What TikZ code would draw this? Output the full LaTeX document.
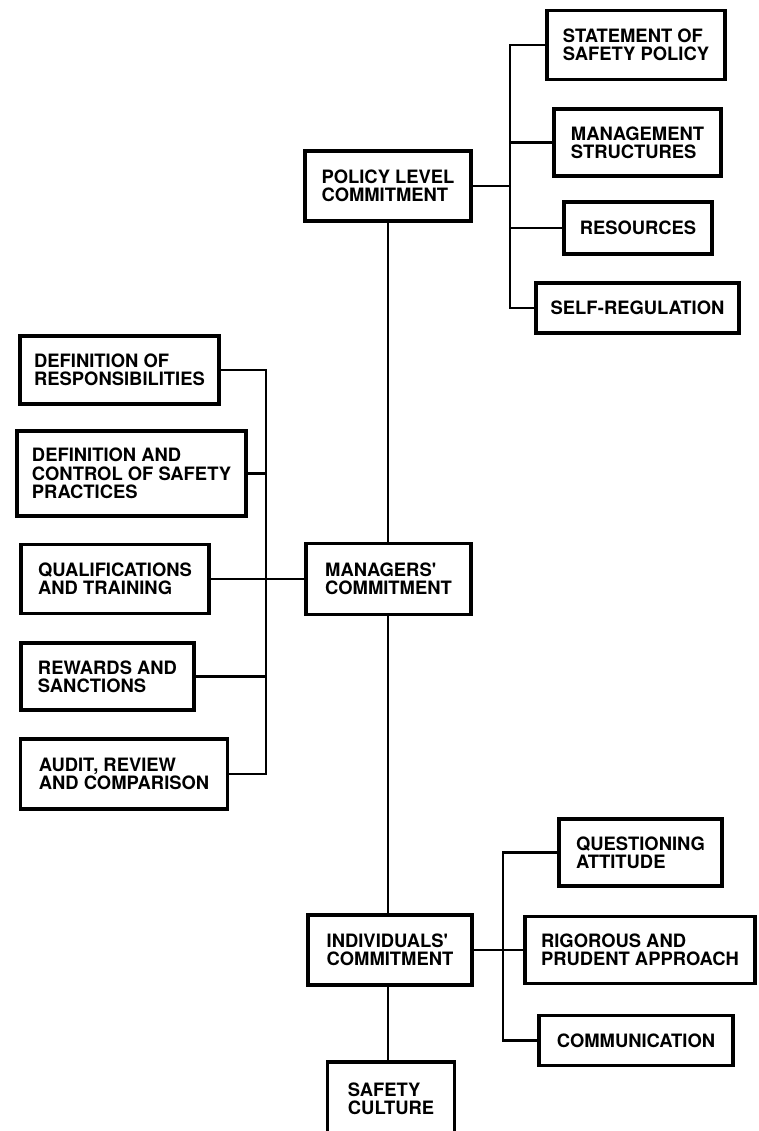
\documentclass[tikz,border=0pt]{standalone}
\usepackage{fontspec}
\usepackage{tikz}
\usetikzlibrary{positioning}
\newfontfamily\boxfont{TeX Gyre Heros}
\newcommand{\bxtext}{\boxfont\bfseries\fontsize{18.4}{18.3}\selectfont}

\tikzset{
  blk/.style 2 args={draw, line width=3.5pt, align=left, inner sep=0pt,
    minimum width=#1pt, minimum height=#2pt, font=\bxtext},
  lnk/.style={line width=2.5pt}
}

\begin{document}
\begin{tikzpicture}[x=1pt, y=-1pt]
            \useasboundingbox (0,0) rectangle (759,1131);

            %Nodes
            \node[blk={166}{70}] at (388,186) (PLC) {POLICY LEVEL\\COMMITMENT};
            \node[blk={178}{69}] at (636,45) (SSP) {STATEMENT OF\\SAFETY POLICY};
            \node[blk={167}{67}] at (637.5,142.5) (MS) {MANAGEMENT\\STRUCTURES};
            \node[blk={148}{52}] at (638,228) (RES) {RESOURCES};
            \node[blk={203}{50}] at (637.5,308) (SR) {SELF-REGULATION};

            \node[blk={165}{71}] at (388.5,579) (MC) {MANAGERS'\\COMMITMENT};
            \node[blk={199}{68}] at (119.5,370) (DR) {DEFINITION OF\\RESPONSIBILITIES};
            \node[blk={229}{85}] at (131.5,473.5) (DC) {DEFINITION AND\\CONTROL OF SAFETY\\PRACTICES};
            \node[blk={188}{69}] at (115,579) (QT) {QUALIFICATIONS\\AND TRAINING};
            \node[blk={173}{67}] at (107.5,676.5) (RS) {REWARDS AND\\SANCTIONS};
            \node[blk={207}{70}] at (124,774) (ARC) {AUDIT, REVIEW\\AND COMPARISON};

            \node[blk={164}{70}] at (390,950) (IC) {INDIVIDUALS'\\COMMITMENT};
            \node[blk={163}{67}] at (640.5,852.5) (QA) {QUESTIONING\\ATTITUDE};
            \node[blk={230}{67}] at (640,950) (RPA) {RIGOROUS AND\\PRUDENT APPROACH};
            \node[blk={194}{50}] at (636,1040.5) (COM) {COMMUNICATION};

            \node[blk={127}{74}] at (391,1099) (SC) {SAFETY\\CULTURE};

            \coordinate (pbar) at (510,0);
            \coordinate (mbar) at (266,0);
            \coordinate (ibar) at (503,0);

            %Lines
            \draw[lnk] (PLC.south) -- (PLC.south |- MC.north);
            \draw[lnk] (PLC.south |- MC.south) -- (PLC.south |- IC.north);
            \draw[lnk] (PLC.south |- IC.south) -- (PLC.south |- SC.north);

            \draw[lnk] (PLC.east) -- (PLC.east -| pbar);
            \draw[lnk] (SSP.west) -| (pbar |- SR.west) -- (SR.west);
            \draw[lnk] (MS.west) -- (MS.west -| pbar);
            \draw[lnk] (RES.west) -- (RES.west -| pbar);

            \draw[lnk] (DR.east) -| (mbar |- ARC.east) -- (ARC.east);
            \draw[lnk] (DC.east) -- (DC.east -| mbar);
            \draw[lnk] (QT.east) -- (MC.west);
            \draw[lnk] (RS.east) -- (RS.east -| mbar);

            \draw[lnk] (QA.west) -| (ibar |- COM.west) -- (COM.west);
            \draw[lnk] (IC.east) -- (RPA.west);
        \end{tikzpicture}
\end{document}
